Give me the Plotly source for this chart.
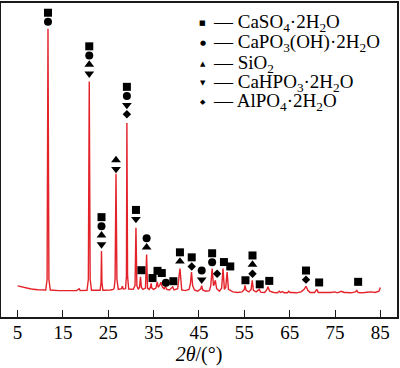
import plotly.graph_objects as go

# ---- XRD pattern (2θ in degrees, intensity in a.u.) ----
two_theta = [5.0, 5.8, 6.8, 8.0, 9.5, 11.2, 11.5, 11.7, 11.9, 12.2, 14.0, 16.0, 18.0, 18.6, 18.8,
             20.3, 20.6, 20.8, 21.0, 21.3, 23.2, 23.4, 23.5, 23.6, 23.8, 25.5, 26.1, 26.3, 26.5,
             26.7, 26.9, 27.2, 27.9, 28.1, 28.3, 28.8, 29.0, 29.1, 29.25, 29.5, 30.5, 30.9, 31.1,
             31.3, 31.6, 31.9, 32.1, 32.3, 32.6, 33.2, 33.45, 33.65, 34.0, 34.3, 34.45, 34.6, 35.0,
             35.5, 35.8, 36.0, 36.3, 36.6, 36.9, 37.3, 37.6, 37.9, 38.5, 39.2, 39.5, 40.3, 40.8,
             41.2, 42.0, 42.8, 43.1, 43.35, 43.6, 44.0, 44.7, 45.4, 45.6, 45.8, 46.5, 47.3, 47.6,
             47.9, 48.2, 48.4, 48.6, 48.9, 49.5, 50.0, 50.3, 50.6, 50.9, 51.2, 51.5, 52.5, 53.5,
             54.5, 55.0, 55.15, 55.4, 56.0, 56.5, 56.75, 57.0, 57.6, 58.3, 58.6, 59.5, 60.0, 60.2,
             60.6, 61.5, 62.3, 62.7, 63.0, 63.4, 63.8, 64.5, 64.8, 65.1, 65.5, 66.5, 67.5, 68.2,
             68.6, 69.0, 69.5, 70.5, 71.0, 71.3, 72.0, 73.0, 74.0, 75.0, 75.5, 76.4, 77.0, 77.5,
             78.5, 79.5, 79.8, 80.1, 81.0, 82.0, 83.0, 83.8, 84.7, 85.0]
intensity = [99, 96, 92, 89, 87, 86, 120, 918, 120, 86, 84, 83, 84, 90, 84,
             85, 120, 750, 120, 85, 85, 110, 210, 110, 85, 86, 88, 92, 120,
             456, 120, 88, 90, 98, 89, 90, 130, 618, 130, 89, 88, 100, 284,
             100, 88, 95, 128, 95, 88, 92, 199, 92, 88, 95, 107, 92, 88,
             92, 112, 95, 100, 111, 96, 90, 97, 88, 86, 96, 86, 90, 154,
             86, 84, 88, 105, 143, 100, 86, 82, 90, 100, 86, 82, 84, 100,
             154, 100, 105, 117, 90, 82, 92, 154, 88, 95, 143, 88, 80, 78,
             80, 88, 101, 85, 80, 88, 117, 85, 80, 88, 79, 78, 88, 96,
             82, 78, 77, 82, 78, 81, 77, 77, 82, 78, 78, 77, 80, 88,
             98, 85, 78, 78, 88, 78, 78, 77, 78, 80, 77, 82, 78, 78,
             77, 80, 85, 78, 77, 79, 80, 78, 82, 94]

# ---- phase labels: position, intensity of lowest marker, phases bottom -> top ----
label_2theta = [11.7, 20.8, 23.5, 26.7, 29.1, 31.1, 32.3, 33.45, 34.75, 35.85, 36.8, 37.7, 39.35,
                40.8, 43.4, 45.6, 47.9, 49.0, 50.5, 51.9, 55.25, 56.8, 58.4, 60.5, 68.6, 71.5, 80.1]
label_base = [940, 775, 231, 471, 646, 312, 149, 222, 124, 147, 140, 109, 114,
              177, 161, 119, 174, 138, 175, 161, 117, 138, 104, 115, 119, 110, 112]
label_phases = ["PS", "HQPS", "HQPS", "HQ", "AHPS", "HS", "S", "QP", "S", "S", "S", "P", "S",
                "QS", "AS", "HP", "PS", "A", "S", "S", "S", "AQS", "S", "S", "AS", "S", "S"]

phase_codes = ["S", "P", "Q", "H", "A"]
phase_names = ["CaSO<sub>4</sub>·2H<sub>2</sub>O", "CaPO<sub>3</sub>(OH)·2H<sub>2</sub>O",
               "SiO<sub>2</sub>", "CaHPO<sub>3</sub>·2H<sub>2</sub>O", "AlPO<sub>4</sub>·2H<sub>2</sub>O"]
phase_symbols = ["square", "circle", "triangle-up", "triangle-down", "diamond"]
phase_sizes = [8, 8, 8.5, 8.5, 6.5]
legend_glyphs = ["■", "●", "▲", "▼", "◆"]

x_ticks = [5, 15, 25, 35, 45, 55, 65, 75, 85]
stack_step = 29

fig = go.Figure()
fig.add_trace(go.Scatter(x=two_theta, y=intensity, mode="lines",
                         line=dict(color="#e3222a", width=1.4), showlegend=False))

for code, sym, size in zip(phase_codes, phase_symbols, phase_sizes):
    xs, ys = [], []
    for x0, b0, ph in zip(label_2theta, label_base, label_phases):
        if code in ph:
            xs.append(x0)
            ys.append(b0 + ph.index(code) * stack_step)
    fig.add_trace(go.Scatter(x=xs, y=ys, mode="markers", showlegend=False,
                             marker=dict(symbol=sym, size=size, color="black",
                                         line=dict(width=0))))

# legend (drawn as text)
row_y = [21.5, 41.5, 62.0, 81.5, 101.0]
for g, name, py in zip(legend_glyphs, phase_names, row_y):
    yp = (317 - py) / 316
    fig.add_annotation(x=(204 - 1) / 398, y=yp, xref="paper", yref="paper", text=g,
                       showarrow=False, xanchor="center", yanchor="middle",
                       font=dict(family="DejaVu Sans", size=7, color="black"))
    fig.add_annotation(x=(212 - 1) / 398, y=yp, xref="paper", yref="paper",
                       text="— " + name, showarrow=False, xanchor="left", yanchor="middle",
                       font=dict(family="Liberation Serif", size=19, color="black"))

axis_common = dict(showline=True, mirror=True, linecolor="#1a1a1a", linewidth=1.5,
                   showgrid=False, zeroline=False)
fig.update_xaxes(range=[1.336, 88.67], tickvals=x_ticks, ticks="inside", ticklen=7,
                 tickwidth=1.3, tickcolor="#1a1a1a", ticklabelstandoff=-3,
                 tickfont=dict(family="Liberation Serif", size=19, color="black"),
                 title=dict(text="<i>2θ</i>/(°)", standoff=3,
                            font=dict(family="Liberation Serif", size=20, color="black")),
                 **axis_common)
fig.update_yaxes(range=[0, 1000], showticklabels=False, ticks="", **axis_common)
fig.update_layout(width=400, height=368, margin=dict(l=1, r=1, t=1, b=51),
                  paper_bgcolor="white", plot_bgcolor="white",
                  font=dict(family="Liberation Serif", color="black"))
fig.write_html("out.html", config={"displayModeBar": False},
               post_script="document.body.style.margin='0px';")
